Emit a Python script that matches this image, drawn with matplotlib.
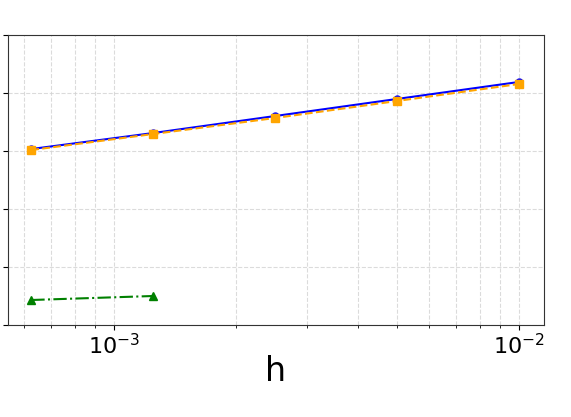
import matplotlib
matplotlib.use("Agg")
import matplotlib.pyplot as plt

h = [6.25e-4, 1.25e-3, 2.5e-3, 5e-3, 1e-2]
err_blue = [10**-2.966, 10**-2.69, 10**-2.397, 10**-2.103, 10**-1.81]
err_orange = [10**-2.983, 10**-2.707, 10**-2.431, 10**-2.138, 10**-1.845]
h_green = [6.25e-4, 1.25e-3]
err_green = [10**-5.569, 10**-5.50]

fig = plt.figure(figsize=(5.71, 4.17), dpi=100)
ax = fig.add_axes([8/571, 1 - 325/417, (544-8)/571, (325-35)/417])

ax.plot(h, err_blue, color="blue", linestyle="-", marker="o", markersize=5, linewidth=1.5)
ax.plot(h, err_orange, color="orange", linestyle="--", marker="s", markersize=6, linewidth=1.5)
ax.plot(h_green, err_green, color="green", linestyle="-.", marker="^", markersize=6, linewidth=1.5)

ax.set_xscale("log")
ax.set_yscale("log")
ax.set_xlim(10**-3.2617, 10**-1.938)
ax.set_ylim(1e-6, 1e-1)
ax.set_yticks([1e-6, 1e-5, 1e-4, 1e-3, 1e-2, 1e-1])
ax.set_yticklabels([])
ax.yaxis.set_minor_locator(matplotlib.ticker.NullLocator())
ax.grid(True, which="both", linestyle="--", color="lightgray", linewidth=0.8, alpha=0.8)
ax.tick_params(axis="x", labelsize=16, pad=2)
ax.set_xlabel("h", fontsize=24, labelpad=-2)
for s in ax.spines.values():
    s.set_color("#333333")

fig.savefig("out.png", dpi=100)
